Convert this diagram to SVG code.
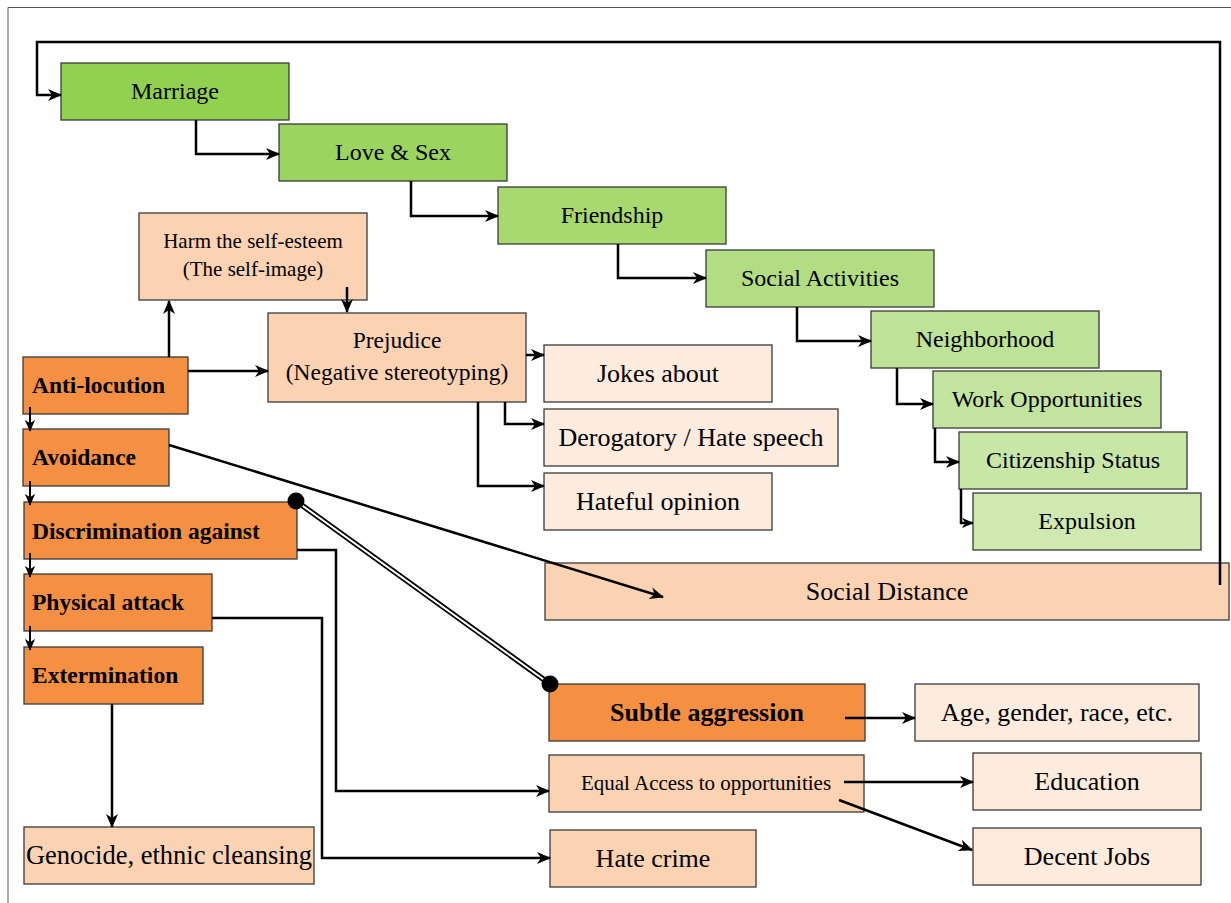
<svg xmlns="http://www.w3.org/2000/svg" width="1231" height="903" viewBox="0 0 1231 903">
<style>
.box{stroke:#3a3a3a;stroke-width:1.3}
.or{fill:#F59042}.pe{fill:#FBD3B2}.li{fill:#FDEBDD}
.t{font-family:"Liberation Serif","Times New Roman",serif;fill:#000;text-anchor:middle}
.b{font-weight:bold;text-anchor:start}
.c{fill:none;stroke:#000;stroke-width:2.5}
.cs{fill:none;stroke:#000;stroke-width:2}
</style>
<defs>
<marker id="ah" viewBox="0 0 14 12" refX="13" refY="6" markerWidth="14" markerHeight="12" markerUnits="userSpaceOnUse" orient="auto"><path d="M0,0 L14,6 L0,12 L4,6 z" fill="#000"/></marker>
<marker id="as" viewBox="0 0 14 12" refX="13" refY="6" markerWidth="12" markerHeight="11" markerUnits="userSpaceOnUse" orient="auto"><path d="M0,0 L14,6 L0,12 L4,6 z" fill="#000"/></marker>
<marker id="dot" viewBox="0 0 20 20" refX="10" refY="10" markerWidth="18" markerHeight="18" markerUnits="userSpaceOnUse"><circle cx="10" cy="10" r="9" fill="#000"/></marker>
</defs>
<rect width="1231" height="903" fill="#fff"/>
<path d="M8,903 V7.5 H1231" fill="none" stroke="#555" stroke-width="1"/>

<g id="marriage"><rect class="box" x="61" y="63" width="228" height="57" fill="#92D050"/><text class="t" x="175" y="99" font-size="24">Marriage</text></g>
<g id="love-sex"><rect class="box" x="279" y="124" width="228" height="57" fill="#9CD460"/><text class="t" x="393" y="160" font-size="24">Love &amp; Sex</text></g>
<g id="friendship"><rect class="box" x="498" y="187" width="228" height="57" fill="#A7D96F"/><text class="t" x="612" y="223" font-size="24">Friendship</text></g>
<g id="social-activities"><rect class="box" x="706" y="250" width="228" height="57" fill="#B2DD82"/><text class="t" x="820" y="286" font-size="24">Social Activities</text></g>
<g id="neighborhood"><rect class="box" x="871" y="311" width="228" height="57" fill="#BEE297"/><text class="t" x="985" y="347" font-size="24">Neighborhood</text></g>
<g id="work"><rect class="box" x="933" y="371" width="228" height="57" fill="#C3E49F"/><text class="t" x="1047" y="407" font-size="24">Work Opportunities</text></g>
<g id="citizenship"><rect class="box" x="959" y="432" width="228" height="57" fill="#C8E6A6"/><text class="t" x="1073" y="468" font-size="24">Citizenship Status</text></g>
<g id="expulsion"><rect class="box" x="973" y="493" width="228" height="57" fill="#CFE9B1"/><text class="t" x="1087" y="529" font-size="24">Expulsion</text></g>

<g id="harm"><rect class="box pe" x="139" y="213" width="228" height="87"/><text class="t" x="253" y="248" font-size="21">Harm the self-esteem</text><text class="t" x="253" y="276" font-size="21">(The self-image)</text></g>
<g id="prejudice"><rect class="box pe" x="268" y="313" width="258" height="89"/><text class="t" x="397" y="348" font-size="23.5">Prejudice</text><text class="t" x="397" y="380" font-size="23.5">(Negative stereotyping)</text></g>

<g id="anti-locution"><rect class="box or" x="23" y="357" width="165" height="57"/><text class="t b" x="32" y="393" font-size="23.5">Anti-locution</text></g>
<g id="avoidance"><rect class="box or" x="23" y="429" width="146" height="57"/><text class="t b" x="32" y="465" font-size="23.5">Avoidance</text></g>
<g id="discrimination"><rect class="box or" x="24" y="502" width="273" height="57"/><text class="t b" x="32" y="539" font-size="23.5">Discrimination against</text></g>
<g id="physical"><rect class="box or" x="24" y="574" width="188" height="57"/><text class="t b" x="32" y="610" font-size="23.5">Physical attack</text></g>
<g id="extermination"><rect class="box or" x="24" y="647" width="179" height="57"/><text class="t b" x="32" y="683" font-size="23.5">Extermination</text></g>

<g id="jokes"><rect class="box li" x="544" y="345" width="228" height="57"/><text class="t" x="658" y="382" font-size="26">Jokes about</text></g>
<g id="derogatory"><rect class="box li" x="544" y="409" width="294" height="57"/><text class="t" x="691" y="446" font-size="26">Derogatory / Hate speech</text></g>
<g id="hateful"><rect class="box li" x="544" y="473" width="228" height="57"/><text class="t" x="658" y="510" font-size="26">Hateful opinion</text></g>

<g id="social-distance"><rect class="box pe" x="545" y="563" width="684" height="57"/><text class="t" x="887" y="600" font-size="26">Social Distance</text></g>

<g id="subtle"><rect class="box or" x="549" y="684" width="316" height="57"/><text class="t" x="707" y="721" font-size="26" font-weight="bold">Subtle aggression</text></g>
<g id="age"><rect class="box li" x="915" y="684" width="284" height="57"/><text class="t" x="1057" y="721" font-size="26">Age, gender, race, etc.</text></g>
<g id="equal"><rect class="box pe" x="549" y="755" width="315" height="57"/><text class="t" x="706" y="790" font-size="21">Equal Access to opportunities</text></g>
<g id="education"><rect class="box li" x="973" y="753" width="228" height="57"/><text class="t" x="1087" y="790" font-size="26">Education</text></g>
<g id="decent-jobs"><rect class="box li" x="973" y="828" width="228" height="57"/><text class="t" x="1087" y="865" font-size="26">Decent Jobs</text></g>
<g id="hate-crime"><rect class="box pe" x="550" y="830" width="206" height="57"/><text class="t" x="653" y="867" font-size="26">Hate crime</text></g>
<g id="genocide"><rect class="box pe" x="24" y="827" width="290" height="57"/><text class="t" x="169" y="864" font-size="26.5">Genocide, ethnic cleansing</text></g>

<g id="connectors">
<path class="c" d="M1220,585 V42 H37 V95 H61" marker-end="url(#ah)"/>
<path class="c" d="M196,120 V154 H279" marker-end="url(#ah)"/>
<path class="c" d="M411,181 V216 H498" marker-end="url(#ah)"/>
<path class="c" d="M618,244 V278 H706" marker-end="url(#ah)"/>
<path class="c" d="M797,307 V341 H871" marker-end="url(#ah)"/>
<path class="c" d="M897,368 V404 H933" marker-end="url(#ah)"/>
<path class="c" d="M935,428 V462 H959" marker-end="url(#ah)"/>
<path class="c" d="M961,489 V523 H973" marker-end="url(#as)"/>

<path class="c" d="M169,357 V301" marker-end="url(#ah)"/>
<path class="c" d="M188,371 H268" marker-end="url(#ah)"/>
<path class="c" d="M347,287 V312" marker-end="url(#ah)"/>
<path class="c" d="M526,355 H544" marker-end="url(#ah)"/>
<path class="c" d="M505,402 V424 H544" marker-end="url(#ah)"/>
<path class="c" d="M478,402 V486 H544" marker-end="url(#ah)"/>

<path class="cs" d="M30,407 V431" marker-end="url(#as)"/>
<path class="cs" d="M30,481 V505" marker-end="url(#as)"/>
<path class="cs" d="M30,553 V577" marker-end="url(#as)"/>
<path class="cs" d="M30,626 V650" marker-end="url(#as)"/>

<path class="c" d="M169,445 L663,597" marker-end="url(#ah)"/>
<path class="c" d="M112,704 V827" marker-end="url(#ah)"/>
<path class="c" d="M297,550 H336 V791 H549" marker-end="url(#ah)"/>
<path class="c" d="M212,618 H322 V858 H550" marker-end="url(#ah)"/>

<line x1="296" y1="501" x2="550" y2="684" stroke="#000" stroke-width="5.5"/>
<line x1="296" y1="501" x2="550" y2="684" stroke="#fff" stroke-width="2"/>
<circle cx="296" cy="501" r="8.5" fill="#000"/>
<circle cx="550" cy="684" r="8.5" fill="#000"/>

<path class="c" d="M845,718 H915" marker-end="url(#ah)"/>
<path class="c" d="M844,782 H973" marker-end="url(#ah)"/>
<path class="c" d="M839,800 L972,850" marker-end="url(#ah)"/>
</g>
</svg>
